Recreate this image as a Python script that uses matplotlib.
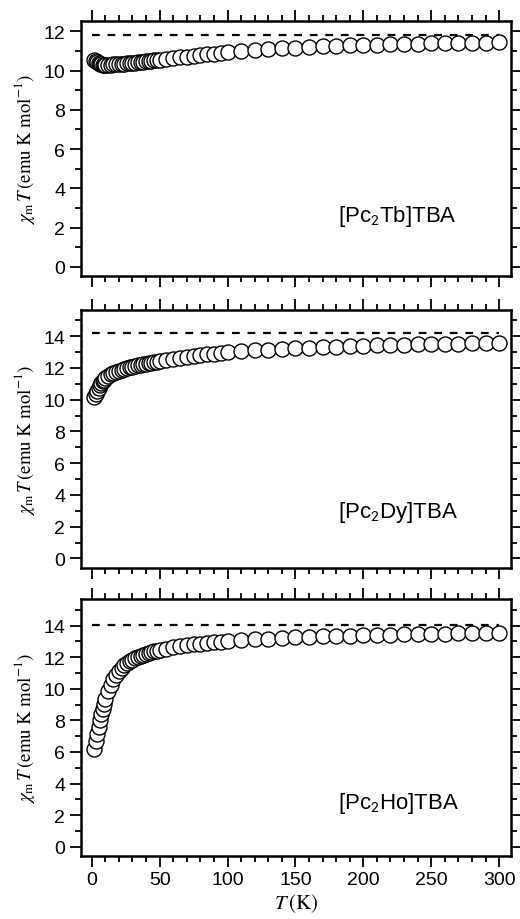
import matplotlib
matplotlib.use('Agg')
import matplotlib.pyplot as plt
from matplotlib.ticker import MultipleLocator

plt.rcParams['font.family'] = ['Liberation Sans', 'DejaVu Sans']
plt.rcParams['mathtext.fontset'] = 'stix'

# temperature points (K)
T = [2, 3, 4, 5, 6, 7, 8, 9, 10,
     12, 14, 16, 18, 20, 22, 24, 26, 28, 30,
     32, 34, 36, 38, 40, 42, 44, 46, 48, 50,
     55, 60, 65, 70, 75, 80, 85, 90, 95, 100,
     110, 120, 130, 140, 150, 160, 170, 180, 190, 200,
     210, 220, 230, 240, 250, 260, 270, 280, 290, 300]

chiT_Tb = [10.55, 10.5, 10.45, 10.4, 10.36, 10.33, 10.31, 10.3, 10.3,
           10.3, 10.31, 10.32, 10.33, 10.34, 10.35, 10.36, 10.37, 10.38, 10.4,
           10.41, 10.43, 10.44, 10.46, 10.47, 10.49, 10.5, 10.52, 10.54, 10.56,
           10.6, 10.64, 10.68, 10.72, 10.76, 10.8, 10.84, 10.87, 10.9, 10.93,
           10.99, 11.05, 11.1, 11.14, 11.18, 11.21, 11.24, 11.27, 11.29, 11.31,
           11.33, 11.35, 11.36, 11.38, 11.39, 11.4, 11.41, 11.42, 11.43, 11.44]

chiT_Dy = [10.15, 10.35, 10.55, 10.75, 10.9, 11.05, 11.15, 11.25, 11.35,
           11.5, 11.6, 11.68, 11.75, 11.82, 11.88, 11.94, 11.99, 12.04, 12.08,
           12.12, 12.16, 12.2, 12.23, 12.27, 12.3, 12.33, 12.36, 12.39, 12.42,
           12.5, 12.57, 12.64, 12.7, 12.76, 12.81, 12.86, 12.9, 12.94, 12.98,
           13.05, 13.11, 13.16, 13.2, 13.24, 13.28, 13.31, 13.34, 13.37, 13.39,
           13.42, 13.44, 13.46, 13.48, 13.49, 13.51, 13.52, 13.54, 13.55, 13.56]

chiT_Ho = [6.2, 6.7, 7.15, 7.6, 8.0, 8.4, 8.75, 9.05, 9.35,
           9.85, 10.25, 10.6, 10.9, 11.12, 11.32, 11.48, 11.62, 11.74, 11.85,
           11.94, 12.02, 12.1, 12.17, 12.23, 12.28, 12.33, 12.38, 12.42, 12.46,
           12.55, 12.63, 12.7, 12.76, 12.81, 12.86, 12.9, 12.94, 12.98, 13.02,
           13.08, 13.13, 13.18, 13.22, 13.26, 13.29, 13.32, 13.35, 13.37, 13.39,
           13.41, 13.43, 13.45, 13.47, 13.48, 13.5, 13.51, 13.52, 13.53, 13.54]

# free-ion limits
limits = [11.82, 14.17, 14.07]
names = [r'[Pc$_{\mathsf{2}}$Tb]TBA', r'[Pc$_{\mathsf{2}}$Dy]TBA', r'[Pc$_{\mathsf{2}}$Ho]TBA']
series = [chiT_Tb, chiT_Dy, chiT_Ho]
ylims = [(-0.47, 12.53), (-0.6, 15.65), (-0.59, 15.69)]
name_y = [0.237, 0.218, 0.21]

fig = plt.figure(figsize=(5.2, 9.2), dpi=100)
boxes = [[0.155, 0.699, 0.827, 0.277],
         [0.155, 0.3815, 0.827, 0.2805],
         [0.155, 0.0685, 0.827, 0.2793]]

for i in range(3):
    ax = fig.add_axes(boxes[i])
    ax.hlines(limits[i], 0, 300, colors='black', linestyles=(0, (3.5, 3.5)), lw=1.6)
    ax.plot(T, series[i], 'o', ms=10.8, mfc='white', mec='black', mew=1.0)
    ax.set_xlim(-8.2, 308.5)
    ax.set_ylim(*ylims[i])
    ax.xaxis.set_major_locator(MultipleLocator(50))
    ax.xaxis.set_minor_locator(MultipleLocator(10))
    ax.yaxis.set_major_locator(MultipleLocator(2))
    ax.yaxis.set_minor_locator(MultipleLocator(1))
    ax.tick_params(which='both', direction='out', top=True, right=True,
                   width=1.3, labelsize=14, pad=3)
    ax.tick_params(which='major', length=8)
    ax.tick_params(which='minor', length=4.5)
    ax.tick_params(axis='y', labelright=False)
    if i < 2:
        ax.tick_params(axis='x', labelbottom=False)
    for s in ax.spines.values():
        s.set_linewidth(1.8)
    ax.set_ylabel(r'$\chi_\mathrm{m}\,T\,(\mathrm{emu\ K\ mol}^{-1})$', fontsize=13.5, labelpad=5)
    ax.text(0.598, name_y[i], names[i], transform=ax.transAxes, fontsize=16,
            ha='left', va='center')

ax.set_xlabel(r'$T\,(\mathrm{K})$', fontsize=15, labelpad=2)

fig.savefig('out.png', dpi=100)
